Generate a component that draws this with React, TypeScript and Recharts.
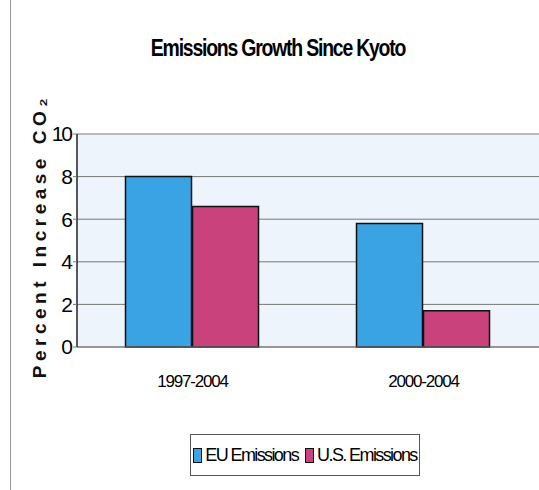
import React from 'react';
import { BarChart, Bar, XAxis, YAxis, CartesianGrid } from 'recharts';

const periods = ['1997-2004', '2000-2004'];
const euEmissions = [8.0, 5.8];
const usEmissions = [6.6, 1.7];
const yTicks = [0, 2, 4, 6, 8, 10];

const data = periods.map((period, i) => ({
    period,
    eu: euEmissions[i],
    us: usEmissions[i],
}));

const FONT = '"Liberation Sans", Arial, sans-serif';

const swatch = (color: string) => (
    <span
        style={{
            display: 'inline-block',
            flexShrink: 0,
            width: 7,
            height: 13,
            background: color,
            border: '1.5px solid #111',
            marginRight: 3,
        }}
    />
);

const LegendBox = () => (
    <div
        style={{
            position: 'absolute',
            left: 190,
            top: 434,
            width: 230,
            height: 42,
            boxSizing: 'border-box',
            display: 'flex',
            alignItems: 'center',
            justifyContent: 'center',
            border: '1px solid #555',
            fontFamily: FONT,
            fontSize: 18,
            letterSpacing: -1.6,
            color: '#000',
            background: '#fff',
            whiteSpace: 'nowrap',
        }}
    >
        {swatch('#3aa3e3')}
        <span style={{ marginRight: 7 }}>EU Emissions</span>
        {swatch('#c9427c')}
        <span>U.S. Emissions</span>
    </div>
);

export default function App() {
    return (
        <div style={{ position: 'fixed', left: 0, top: 0, width: 539, height: 490, background: '#fff', overflow: 'hidden' }}>
            <div style={{ position: 'absolute', left: 10, top: 0, width: 1, height: 490, background: '#999' }} />
            <div
                style={{
                    position: 'absolute',
                    top: 34,
                    left: 0,
                    width: 556,
                    textAlign: 'center',
                    fontFamily: FONT,
                    fontWeight: 'bold',
                    fontSize: 24,
                    letterSpacing: -1.5,
                    transform: 'scaleX(0.81)',
                    color: '#000',
                }}
            >
                Emissions Growth Since Kyoto
            </div>
            <div
                style={{
                    position: 'absolute',
                    left: 40,
                    top: 236,
                    transform: 'translate(-50%, -50%) rotate(-90deg)',
                    whiteSpace: 'nowrap',
                    fontFamily: FONT,
                    fontWeight: 'bold',
                    fontSize: 19,
                    letterSpacing: 4.5,
                    color: '#111',
                }}
            >
                Percent Increase CO₂
            </div>
            <BarChart
                width={539}
                height={490}
                data={data}
                margin={{ top: 134, right: 0, bottom: 113, left: 20 }}
                barCategoryGap="21%"
                barGap={1}
                style={{ position: 'absolute', left: 0, top: 0 }}
            >
                <CartesianGrid vertical={false} stroke="#777" fill="#eef4fb" />
                <XAxis
                    dataKey="period"
                    tickLine={false}
                    axisLine={{ stroke: '#777' }}
                    tick={{ fill: '#000', fontSize: 17, fontFamily: FONT, letterSpacing: -1.2 }}
                    tickMargin={22}
                    height={30}
                />
                <YAxis
                    domain={[0, 10]}
                    ticks={yTicks}
                    width={57}
                    axisLine={{ stroke: '#222', strokeWidth: 1.5 }}
                    tickLine={{ stroke: '#777' }}
                    tickSize={4}
                    tick={{ fill: '#000', fontSize: 21, fontFamily: FONT, letterSpacing: -2 }}
                />
                <Bar dataKey="eu" name="EU Emissions" fill="#3aa3e3" stroke="#111" strokeWidth={1.5} isAnimationActive={false} />
                <Bar dataKey="us" name="U.S. Emissions" fill="#c9427c" stroke="#111" strokeWidth={1.5} isAnimationActive={false} />
            </BarChart>
            <LegendBox />
        </div>
    );
}
